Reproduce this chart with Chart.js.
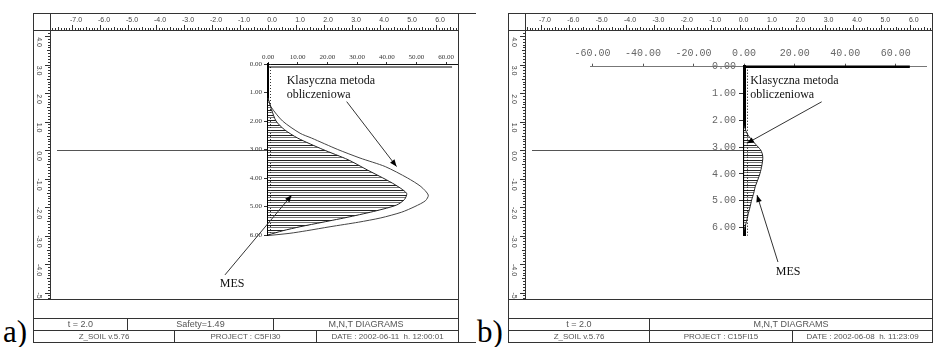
<!DOCTYPE html>
<html><head><meta charset="utf-8">
<script src="https://cdn.jsdelivr.net/npm/chart.js@4"></script>
<style>
body{margin:0;background:#fff;width:935px;height:347px;overflow:hidden;position:relative;font-family:'Liberation Sans',Arial,sans-serif;}
canvas{position:absolute;}
.ln{position:absolute;background:#333;}
.ft{position:absolute;color:#555;text-align:center;white-space:pre;overflow:hidden;}
.lbl{position:absolute;font-family:'Liberation Serif','Times New Roman',serif;font-size:31px;line-height:31px;color:#000;}
</style></head><body>
<canvas id="rulerA" width="425" height="286" style="left:33px;top:13px"></canvas>
<canvas id="rulerB" width="424" height="286" style="left:508px;top:13px"></canvas>
<canvas id="innerA" width="408" height="269" style="left:50px;top:30px"></canvas>
<canvas id="innerB" width="406" height="269" style="left:526px;top:30px"></canvas>
<div class="lbl" style="left:3px;top:316px">a)</div>
<div class="lbl" style="left:477px;top:316px">b)</div>
<script>
// ---------- data ----------
const rulerXLabels = [-7,-6,-5,-4,-3,-2,-1,0,1,2,3,4,5,6];
const rulerYLabels = [4,3,2,1,0,-1,-2,-3,-4,-5];
const depthTicks = [0,1,2,3,4,5,6];
const forceTicksA = [0,10,20,30,40,50,60];
const forceTicksB = [-60,-40,-20,0,20,40,60];

const mesDepthA  = [1.2, 1.6, 2.0, 2.3, 2.6, 3.0, 3.36, 3.72, 4.07, 4.3, 4.54, 4.75, 4.95, 5.15, 5.36, 5.55, 5.71, 5.85, 6.0];
const mesValueA  = [0,   1.2, 2.7, 5.5, 10,  18.5, 27,  33.5, 40,  43.8, 46.7, 46,  43.3, 36.5, 27.6, 18.5, 10.8, 5,   0];
const klasDepthA = [1.2, 1.5, 2.0, 2.43, 2.6, 3.0, 3.3, 3.6, 4.0, 4.3, 4.6, 4.8, 5.0, 5.2, 5.4, 5.55, 5.71, 5.85, 5.94, 6.02];
const klasValueA = [0,   1,   4.9, 10.8, 14.7, 23.5, 31, 39.5, 47, 51.5, 54, 53, 49.5, 45, 38, 30.5, 20.9, 13, 7.4, 0];

const mesDepthB  = [2.2, 2.5, 2.73, 2.9, 3.1, 3.25, 3.42, 3.7, 3.98, 4.2, 4.48, 4.72, 4.97, 5.22, 5.47, 5.72, 5.97, 6.1];
const mesValueB  = [0,   1.2, 3.0,  4.6, 6.5, 7.2,  7.4,  7.0, 6.3,  5.5, 4.4,  3.8,  3.0,  2.4,  1.7,  1.1,  0.4, 0];
const klasDepthB = [2.7, 2.85, 3.0, 3.1, 3.2, 3.35, 3.45];
const klasValueB = [0,   1.3,  2.3, 2.5, 2.0, 0.8,  0];

const footerA = [['t = 2.0','Safety=1.49','M,N,T DIAGRAMS'],['Z_SOIL v.5.76','PROJECT : C5FI30','DATE : 2002-06-11  h. 12:00:01']];
const footerB = [['t = 2.0','M,N,T DIAGRAMS'],['Z_SOIL v.5.76','PROJECT : C15FI15','DATE : 2002-06-08  h. 11:23:09']];

// ---------- layout helpers ----------
function hline(x1,x2,y){const d=document.createElement('div');d.className='ln';d.style.cssText=`left:${x1}px;top:${y}px;width:${x2-x1+1}px;height:1px`;document.body.appendChild(d);}
function vline(x,y1,y2){const d=document.createElement('div');d.className='ln';d.style.cssText=`left:${x}px;top:${y1}px;width:1px;height:${y2-y1+1}px`;document.body.appendChild(d);}
function cell(x1,x2,y1,y2,txt,size){const d=document.createElement('div');d.className='ft';d.textContent=txt;d.style.cssText=`left:${x1+1}px;top:${y1+1}px;width:${x2-x1-1}px;height:${y2-y1-1}px;line-height:${y2-y1-1}px;font-size:${size}px`;document.body.appendChild(d);}

function frame(L,R,ext,cols1,cols2,f){
  hline(L,ext,13); hline(L,ext,342);
  vline(L,13,342); vline(R,13,342); vline(L+17,13,299);
  hline(L,R,30); hline(L,R,299); hline(L,R,318); hline(L,R,330);
  const c1=[L,...cols1,R], c2=[L,...cols2,R];
  cols1.forEach(x=>vline(x,318,330)); cols2.forEach(x=>vline(x,330,342));
  f[0].forEach((t,i)=>cell(c1[i],c1[i+1],318,330,t,9));
  f[1].forEach((t,i)=>cell(c2[i],c2[i+1],330,342,t,8));
}
frame(33,458,475,[127,273],[174,316],footerA);
frame(508,932,932,[649],[649,792],footerB);

// ---------- ruler charts ----------
function rulerPlugin(wallX){return {id:'ruler',afterDraw(chart){
  const {ctx,chartArea:ca,scales:{x,y}}=chart;
  ctx.save();
  ctx.strokeStyle='#333';ctx.lineWidth=1;
  for(let i=Math.ceil(x.min*10);i<=Math.floor(x.max*10);i++){
    const px=Math.round(x.getPixelForValue(i/10))+0.5;
    const len=i%10===0?5:(i%5===0?3:2);
    ctx.beginPath();ctx.moveTo(px,ca.top);ctx.lineTo(px,ca.top-len);ctx.stroke();
  }
  for(let i=Math.ceil(y.min*10);i<=Math.floor(y.max*10);i++){
    const py=Math.round(y.getPixelForValue(i/10))+0.5;
    const len=i%10===0?5:(i%5===0?3:2);
    ctx.beginPath();ctx.moveTo(ca.left,py);ctx.lineTo(ca.left-len,py);ctx.stroke();
  }
  ctx.fillStyle='#444';ctx.font='7px "Liberation Sans"';ctx.textAlign='center';ctx.textBaseline='middle';
  rulerXLabels.forEach(v=>{ctx.fillText(v.toFixed(1),x.getPixelForValue(v)+4,7);});
  ctx.save();ctx.beginPath();ctx.rect(0,ca.top,ca.left,ca.bottom-ca.top);ctx.clip();
  rulerYLabels.forEach(v=>{ctx.save();ctx.translate(6,y.getPixelForValue(v)+6);ctx.rotate(Math.PI/2);ctx.fillText(v.toFixed(1),0,0);ctx.restore();});
  ctx.restore();
  // level line at ruler 0
  const py=Math.round(y.getPixelForValue(0))+0.5;
  ctx.strokeStyle='#555';ctx.beginPath();ctx.moveTo(ca.left+7,py);ctx.lineTo(x.getPixelForValue(wallX),py);ctx.stroke();
  ctx.restore();
}};}
function rulerChart(id,xmin,xmax,wallX){
  return new Chart(document.getElementById(id),{type:'scatter',data:{datasets:[]},
    options:{responsive:false,animation:false,devicePixelRatio:1,
      layout:{padding:{left:17,top:17,right:0,bottom:0}},
      plugins:{legend:{display:false},tooltip:{enabled:false}},
      scales:{x:{type:'linear',display:false,min:xmin,max:xmax},
              y:{type:'linear',display:false,min:-5.228,max:4.211}}},
    plugins:[rulerPlugin(wallX)]});
}
rulerChart('rulerA',-7.786,6.786,0);
rulerChart('rulerB',-7.562,6.784,0.14);

// ---------- inner charts ----------
function makeHatch(){const c=document.createElement('canvas');c.width=8;c.height=5;const g=c.getContext('2d');
  g.fillStyle='#fff';g.fillRect(0,0,8,5);g.fillStyle='#222';g.fillRect(0,0,8,1);g.fillStyle='#777';g.fillRect(0,2,8,1);
  return g.createPattern(c,'repeat');}
const pts=(d,v)=>d.map((dd,i)=>({x:v[i],y:dd}));

function arrow(ctx,x1,y1,x2,y2){
  ctx.beginPath();ctx.moveTo(x1,y1);ctx.lineTo(x2,y2);ctx.stroke();
  const a=Math.atan2(y2-y1,x2-x1),L=7,W=2.8;
  ctx.beginPath();ctx.moveTo(x2,y2);
  ctx.lineTo(x2-L*Math.cos(a)+W*Math.sin(a),y2-L*Math.sin(a)-W*Math.cos(a));
  ctx.lineTo(x2-L*Math.cos(a)-W*Math.sin(a),y2-L*Math.sin(a)+W*Math.cos(a));
  ctx.closePath();ctx.fill();
}
function innerPlugin(p){return {id:'inner',afterDraw(chart){
  const {ctx,scales:{x,y}}=chart;
  const X=v=>x.getPixelForValue(v),Y=v=>y.getPixelForValue(v);
  ctx.save();
  // depth labels beside a wall axis placed inside the chart area
  if(p.yLabels){
    ctx.fillStyle='#666';ctx.font='10px "Liberation Mono"';ctx.textAlign='right';ctx.textBaseline='middle';
    y.ticks.forEach(t=>ctx.fillText(t.value.toFixed(2),X(0)-8,Y(t.value)));
  }
  // dotted line next to wall
  ctx.strokeStyle=p.dotColor;ctx.lineWidth=1;ctx.setLineDash([1,2]);
  const dx=Math.round(X(0))+p.dotOff+0.5;
  ctx.beginPath();ctx.moveTo(dx,Y(0));ctx.lineTo(dx,Y(p.dotEnd));ctx.stroke();ctx.setLineDash([]);
  // top line at depth 0
  ctx.strokeStyle='#000';ctx.lineWidth=p.topW;
  ctx.beginPath();ctx.moveTo(X(0),Y(0)+p.topOff);ctx.lineTo(X(p.topEnd),Y(0)+p.topOff);ctx.stroke();
  // annotations
  const an=p.ann;
  ctx.lineWidth=1;ctx.strokeStyle='#333';ctx.fillStyle='#000';
  arrow(ctx,X(an.klasArrow[0]),Y(an.klasArrow[1]),X(an.klasArrow[2]),Y(an.klasArrow[3]));
  arrow(ctx,X(an.mesArrow[0]),Y(an.mesArrow[1]),X(an.mesArrow[2]),Y(an.mesArrow[3]));
  ctx.fillStyle='#111';ctx.font='12px "Liberation Serif"';ctx.textBaseline='alphabetic';ctx.textAlign='left';
  ctx.fillText('Klasyczna metoda',X(an.klas[0]),Y(an.klas[1]));
  ctx.fillText('obliczeniowa',X(an.klas[0]),Y(an.klas[1])+14);
  ctx.textAlign='center';ctx.textBaseline='middle';
  ctx.fillText('MES',X(an.mes[0]),Y(an.mes[1]));
  ctx.restore();
}};}

const hatch=makeHatch();
new Chart(document.getElementById('innerA'),{type:'line',
  data:{datasets:[
    {data:pts(mesDepthA,mesValueA),borderColor:'#222',borderWidth:1,backgroundColor:hatch,fill:'origin',pointRadius:0,tension:0.25,clip:false},
    {data:pts(klasDepthA,klasValueA),borderColor:'#444',borderWidth:1,fill:false,pointRadius:0,tension:0.25,clip:false}]},
  options:{indexAxis:'y',responsive:false,animation:false,devicePixelRatio:1,
    layout:{padding:{left:188,top:20,right:0,bottom:64}},
    plugins:{legend:{display:false},tooltip:{enabled:false}},
    scales:{
      x:{type:'linear',position:'top',min:0,max:64,afterFit:s=>{s.height=14;},afterBuildTicks:s=>{s.ticks=forceTicksA.map(v=>({value:v}));},
         grid:{drawOnChartArea:false,tickLength:2,color:'#333'},border:{color:'#111',width:1},
         ticks:{padding:1,autoSkip:false,maxRotation:0,font:{family:'Liberation Serif',size:7},color:'#333',callback:v=>v.toFixed(2)}},
      y:{type:'linear',position:'left',reverse:true,min:0,max:6,afterFit:s=>{s.width=30;},afterBuildTicks:s=>{s.ticks=depthTicks.map(v=>({value:v}));},
         grid:{drawOnChartArea:false,tickLength:4,color:'#333'},border:{color:'#000',width:2},
         ticks:{padding:2,autoSkip:false,font:{family:'Liberation Serif',size:7},color:'#333',callback:v=>v.toFixed(2)}}}},
  plugins:[innerPlugin({dotColor:'#333',dotOff:2,dotEnd:6,topW:1,topOff:3,topEnd:62,
    ann:{klas:[6.3,0.70],klasArrow:[26.5,1.32,43.3,3.6],mes:[-12.1,7.72],mesArrow:[-14.5,7.4,8,4.6]}})]
});

new Chart(document.getElementById('innerB'),{type:'line',
  data:{datasets:[
    {data:pts(mesDepthB,mesValueB),borderColor:'#222',borderWidth:1,backgroundColor:hatch,fill:'origin',pointRadius:0,tension:0.25,clip:false},
    {data:pts(klasDepthB,klasValueB),borderColor:'#000',borderWidth:2,fill:false,pointRadius:0,tension:0.3,clip:false}]},
  options:{indexAxis:'y',responsive:false,animation:false,devicePixelRatio:1,
    layout:{padding:{left:64,top:16.7,right:6,bottom:63.5}},
    plugins:{legend:{display:false},tooltip:{enabled:false}},
    scales:{
      x:{type:'linear',position:'top',min:-61,max:72,afterFit:s=>{s.height=20;},afterBuildTicks:s=>{s.ticks=forceTicksB.map(v=>({value:v}));},
         grid:{drawOnChartArea:false,tickLength:3,color:'#555'},border:{color:'#777',width:1},
         ticks:{padding:4,autoSkip:false,maxRotation:0,font:{family:'Liberation Mono',size:10},color:'#666',callback:v=>v.toFixed(2)}},
      y:{type:'linear',position:{x:0},reverse:true,min:0,max:6.3,afterBuildTicks:s=>{s.ticks=depthTicks.map(v=>({value:v}));},
         grid:{drawOnChartArea:false,tickLength:4,color:'#333'},border:{color:'#000',width:3},
         ticks:{display:false}}}},
  plugins:[innerPlugin({yLabels:true,dotColor:'#000',dotOff:3,dotEnd:6.3,topW:2.5,topOff:0,topEnd:65.6,
    ann:{klas:[2.4,0.65],klasArrow:[30.7,1.31,1.1,2.86],mes:[17.4,7.66],mesArrow:[13.4,7.29,5.1,4.79]}})]
});
</script>
</body></html>
